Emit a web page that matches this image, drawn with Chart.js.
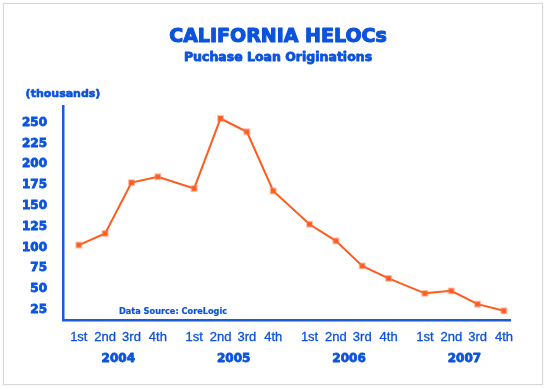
<!DOCTYPE html>
<html>
<head>
<meta charset="utf-8">
<title>California HELOCs</title>
<script src="https://cdn.jsdelivr.net/npm/chart.js@4"></script>
<style>
  html, body { margin:0; padding:0; background:#fff; }
  .wrap { position:relative; width:547px; height:389px; overflow:hidden; }
  .frame {
    position:absolute; left:3px; top:3px; width:538px; height:380px;
    border:1.5px solid #d9d9d9; box-shadow:0 0 2px rgba(0,0,0,0.08);
  }
  canvas { position:absolute; left:0; top:0; }
</style>
</head>
<body>
<div class="wrap">
  <div class="frame"></div>
  <canvas id="helocChart" width="547" height="389"></canvas>
</div>
<script>
/* ---------- data ---------- */
const years = ['2004', '2005', '2006', '2007'];
const quarters = ['1st', '2nd', '3rd', '4th'];
const originations = [
  103, 117, 178, 185,   // 2004
  171, 255, 239, 168,   // 2005
  128, 108, 78, 63,     // 2006
  45, 48, 32, 24        // 2007
];
const yTicks = [25, 50, 75, 100, 125, 150, 175, 200, 225, 250];

/* ---------- layout bits ---------- */
const BLUE = '#0b52dc';
const AXIS_BLUE = '#1a5cd8';
const ORANGE = '#ff5b1c';
const GROUP_GAP = 0.38;   // extra space between years, in quarter steps
const HEAVY = '"DejaVu Sans", sans-serif';
const PLAIN = '"Liberation Sans", Arial, sans-serif';

// x position of quarter i on the linear x axis
function quarterX(i){
  return i + GROUP_GAP * Math.floor(i / quarters.length);
}

const points = originations.map((v, i) => ({ x: quarterX(i), y: v }));
const tickLabelAt = {};
originations.forEach((v, i) => { tickLabelAt[quarterX(i).toFixed(3)] = quarters[i % quarters.length]; });

// filled + thin stroke, to get closer to the black-weight face of the original
function heavyText(ctx, txt, x, y, stroke){
  ctx.lineWidth = stroke;
  ctx.strokeText(txt, x, y);
  ctx.fillText(txt, x, y);
}

/* ---------- extra text: titles, unit, years, source ---------- */
const decorations = {
  id: 'decorations',
  afterDraw(chart){
    const ctx = chart.ctx;
    const xs = chart.scales.x;
    const area = chart.chartArea;
    ctx.save();
    ctx.fillStyle = BLUE;
    ctx.strokeStyle = BLUE;
    ctx.lineJoin = 'round';
    ctx.textAlign = 'center';
    ctx.textBaseline = 'alphabetic';

    ctx.font = 'bold 19px ' + HEAVY;
    heavyText(ctx, 'CALIFORNIA HELOCs', 278, 41.5, 1.1);
    ctx.font = 'bold 12.5px ' + HEAVY;
    heavyText(ctx, 'Puchase Loan Originations', 278, 60.5, 0.8);

    ctx.textBaseline = 'middle';
    ctx.font = 'bold 11px ' + HEAVY;
    heavyText(ctx, '(thousands)', area.left, 94, 0.6);

    // year labels centred under each group of quarters
    ctx.font = 'bold 12px ' + HEAVY;
    years.forEach((yr, g) => {
      const first = quarterX(g * quarters.length);
      const last = quarterX(g * quarters.length + quarters.length - 1);
      heavyText(ctx, yr, xs.getPixelForValue((first + last) / 2), 358.5, 0.8);
    });

    ctx.textAlign = 'left';
    ctx.font = 'bold 8.2px ' + HEAVY;
    heavyText(ctx, 'Data Source: CoreLogic', area.left + 56, 311.5, 0.2);
    ctx.restore();
  }
};

/* ---------- chart ---------- */
new Chart(document.getElementById('helocChart'), {
  type: 'line',
  data: {
    datasets: [{
      data: points,
      borderColor: ORANGE,
      borderWidth: 2,
      pointStyle: 'rect',
      pointRadius: 3.5,
      pointBackgroundColor: ORANGE,
      pointBorderColor: 'rgba(255,120,80,0.45)',
      pointBorderWidth: 2,
      tension: 0
    }]
  },
  options: {
    responsive: false,
    animation: false,
    devicePixelRatio: 1,
    layout: { padding: { top: 106, right: 37, left: 0, bottom: 0 } },
    plugins: { legend: { display: false }, tooltip: { enabled: false } },
    scales: {
      x: {
        type: 'linear',
        min: -0.6,
        max: quarterX(originations.length - 1) + 0.23,
        grid: { display: false, drawTicks: false },
        border: { display: true, color: AXIS_BLUE, width: 2.5 },
        afterBuildTicks: (scale) => {
          scale.ticks = originations.map((v, i) => ({ value: quarterX(i) }));
        },
        afterFit: (scale) => { scale.height = 69; },
        ticks: {
          autoSkip: false,
          maxRotation: 0,
          padding: 10,
          color: BLUE,
          textStrokeColor: BLUE,
          textStrokeWidth: 0.3,
          font: { family: PLAIN, size: 13 },
          callback: (v) => tickLabelAt[Number(v).toFixed(3)] || ''
        }
      },
      y: {
        min: 13,
        max: 270,
        grid: { display: false, drawTicks: false },
        border: { display: true, color: AXIS_BLUE, width: 2.5 },
        afterBuildTicks: (scale) => {
          scale.ticks = yTicks.map(v => ({ value: v }));
        },
        afterFit: (scale) => { scale.width = 63; },
        ticks: {
          padding: 16,
          color: BLUE,
          textStrokeColor: BLUE,
          textStrokeWidth: 0.8,
          font: { family: HEAVY, size: 12, weight: 'bold' }
        }
      }
    }
  },
  plugins: [decorations]
});
</script>
</body>
</html>
